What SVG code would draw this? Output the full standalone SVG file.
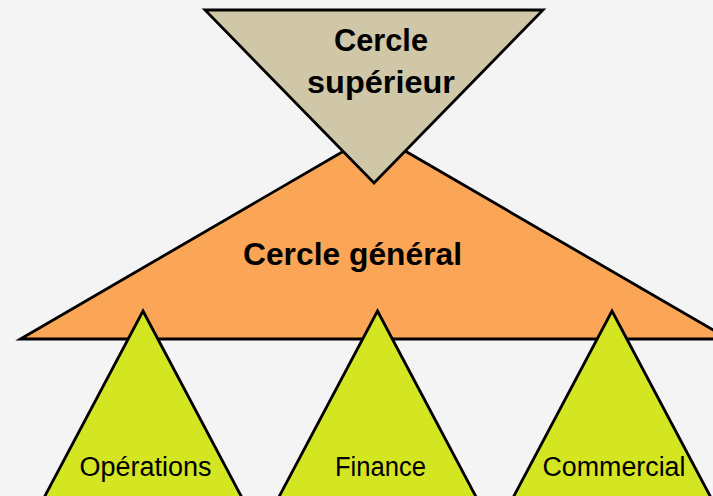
<svg xmlns="http://www.w3.org/2000/svg" width="713" height="496" viewBox="0 0 713 496">
  <style>
    .shape { stroke: #000; stroke-width: 2.8; stroke-linejoin: miter; }
    .gen { fill: #fba657; }
    .sup { fill: #cfc7a7; }
    .team { fill: #d4e522; }
    .bold { font-family: "Liberation Sans", Arial, sans-serif; font-weight: bold; font-size: 32px; fill: #000; text-anchor: middle; }
    .reg { font-family: "Liberation Sans", Arial, sans-serif; font-size: 27px; fill: #000; text-anchor: middle; }
  </style>
  <rect x="0" y="0" width="713" height="496" fill="#f4f4f4"/>
  <g id="cercle-general">
    <polygon class="shape gen" points="20.5,339 374.5,133.2 728.5,339"/>
    <text class="bold" x="352.5" y="265" textLength="219" lengthAdjust="spacingAndGlyphs">Cercle général</text>
  </g>
  <g id="cercle-superieur">
    <polygon class="shape sup" points="205,10 543,10 374,183"/>
    <text class="bold" x="381" y="51" textLength="94" lengthAdjust="spacingAndGlyphs">Cercle</text>
    <text class="bold" x="381" y="93" textLength="148" lengthAdjust="spacingAndGlyphs">supérieur</text>
  </g>
  <g id="operations">
    <polygon class="shape team" points="143,311 248.5,510 37.5,510"/>
    <text class="reg" x="145.5" y="476" textLength="132" lengthAdjust="spacingAndGlyphs">Opérations</text>
  </g>
  <g id="finance">
    <polygon class="shape team" points="377.5,311 483,510 272,510"/>
    <text class="reg" x="380.5" y="476" textLength="91" lengthAdjust="spacingAndGlyphs">Finance</text>
  </g>
  <g id="commercial">
    <polygon class="shape team" points="612,311 717.5,510 506.5,510"/>
    <text class="reg" x="614" y="476" textLength="143" lengthAdjust="spacingAndGlyphs">Commercial</text>
  </g>
  <g id="connectors"></g>
</svg>
